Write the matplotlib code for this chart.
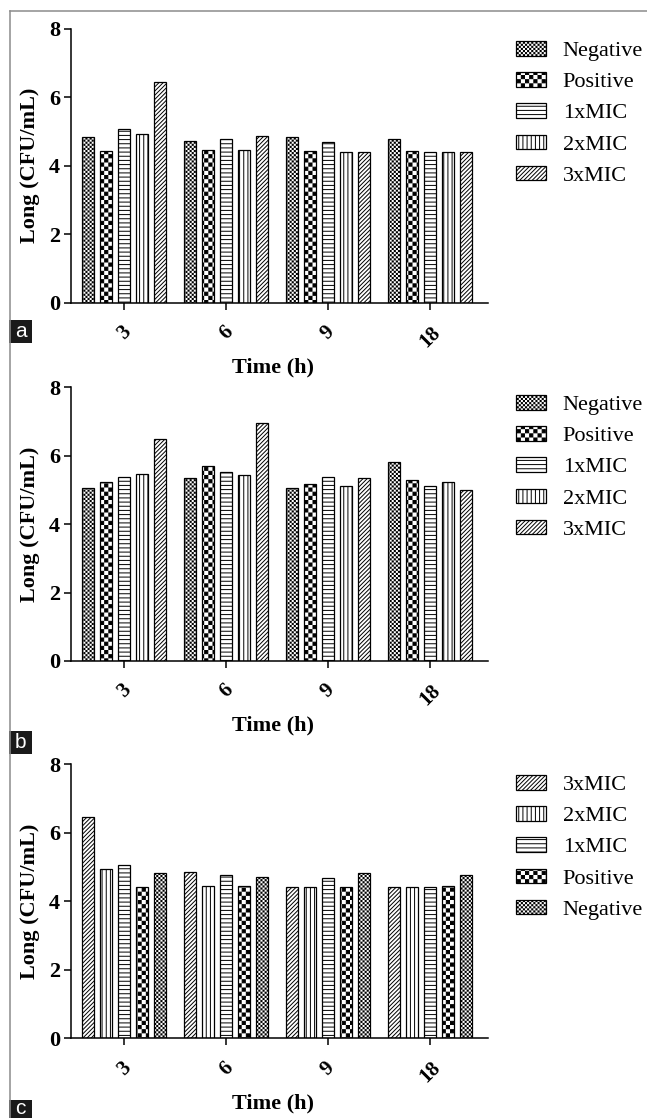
import warnings
import numpy as np
import matplotlib
matplotlib.use('Agg')
import matplotlib.pyplot as plt
import matplotlib.hatch as mhatch
from matplotlib.path import Path
from matplotlib.patches import Rectangle
from matplotlib.lines import Line2D

warnings.filterwarnings('ignore')

# time points (h)
times = ['3', '6', '9', '18']
series_names = ['Negative', 'Positive', '1xMIC', '2xMIC', '3xMIC']

# panel a (panel c shows the same values, series in reverse order)
a_negative = [4.84, 4.72, 4.83, 4.77]
a_positive = [4.42, 4.46, 4.42, 4.44]
a_1xmic = [5.07, 4.78, 4.68, 4.41]
a_2xmic = [4.93, 4.46, 4.41, 4.41]
a_3xmic = [6.45, 4.86, 4.41, 4.41]

# panel b
b_negative = [5.04, 5.35, 5.06, 5.81]
b_positive = [5.23, 5.68, 5.18, 5.29]
b_1xmic = [5.36, 5.52, 5.37, 5.11]
b_2xmic = [5.46, 5.42, 5.10, 5.23]
b_3xmic = [6.48, 6.94, 5.34, 4.98]


# checkerboard hatch, triggered by 'c' (more c's = finer squares)
class CheckerHatch(mhatch.HatchPatternBase):
    def __init__(self, hatch, density):
        self.n = int(hatch.count('c') * density)
        self.num_vertices = 10 * self.n * self.n

    def set_vertices_and_codes(self, vertices, codes):
        s = 1.0 / (2 * self.n)
        m = 0.35 / 72  # shrink a bit, the hatch stroke adds it back
        k = 0
        for i in range(2 * self.n):
            for j in range(2 * self.n):
                if (i + j) % 2:
                    continue
                x0, y0 = i * s + m, j * s + m
                x1, y1 = (i + 1) * s - m, (j + 1) * s - m
                vertices[k:k + 5] = [(x0, y0), (x1, y0), (x1, y1), (x0, y1), (x0, y0)]
                codes[k:k + 5] = [Path.MOVETO, Path.LINETO, Path.LINETO,
                                  Path.LINETO, Path.CLOSEPOLY]
                k += 5


mhatch._hatch_types.append(CheckerHatch)

plt.rcParams['font.family'] = ['Liberation Serif', 'DejaVu Serif']
plt.rcParams['hatch.linewidth'] = 0.7
plt.rcParams['hatch.color'] = 'black'

hatch_for = {'Negative': 'cccc', 'Positive': 'cc', '1xMIC': '----',
             '2xMIC': '||||', '3xMIC': '////////'}

W, H = 647, 1118
fig = plt.figure(figsize=(W / 100, H / 100), dpi=100)

# outer frame lines
fig.add_artist(Line2D([10 / W, 1], [1 - 10.5 / H, 1 - 10.5 / H], color='#8c8c8c', lw=1.1,
                      transform=fig.transFigure))
fig.add_artist(Line2D([10 / W, 10 / W], [0, 1 - 10.5 / H], color='#8c8c8c', lw=1.1,
                      transform=fig.transFigure))


def draw_panel(bottom_px, names, series, legend_top_px, letter, letter_top_px):
    ax = fig.add_axes([71 / W, 1 - bottom_px / H, 417 / W, 274 / H])
    x = np.arange(len(times))
    pitch = 0.176
    for i, (name, vals) in enumerate(zip(names, series)):
        ax.bar(x + (i - 2) * pitch, vals, width=0.12, facecolor='white',
               edgecolor='black', linewidth=0.9, hatch=hatch_for[name], label=name)
    ax.set_xlim(-0.52, 3.57)
    ax.set_ylim(0, 8)
    ax.set_yticks([0, 2, 4, 6, 8])
    ax.set_xticks(x)
    ax.set_xticklabels(times, rotation=45, ha='center', fontweight='bold', fontsize=15)
    for t in ax.get_yticklabels():
        t.set_fontweight('bold')
        t.set_fontsize(16)
    ax.tick_params(axis='both', direction='out', length=5, width=1.1, color='black')
    ax.tick_params(axis='x', pad=9)
    ax.tick_params(axis='y', pad=3)
    for side in ['top', 'right']:
        ax.spines[side].set_visible(False)
    for side in ['left', 'bottom']:
        ax.spines[side].set_linewidth(1.1)
    ax.set_xlabel('Time (h)', fontweight='bold', fontsize=16)
    ax.xaxis.set_label_coords(0.485, -0.20)
    ax.set_ylabel('Long (CFU/mL)', fontweight='bold', fontsize=16)
    ax.yaxis.set_label_coords(-0.075, 0.5)
    ax.legend(loc='upper left', bbox_to_anchor=(516 / W, 1 - legend_top_px / H),
              bbox_transform=fig.transFigure, frameon=False, fontsize=16,
              handlelength=1.35, handleheight=0.63, handletextpad=0.75,
              labelspacing=0.5, borderpad=0, borderaxespad=0)
    # panel letter in a black box
    fig.add_artist(Rectangle((9 / W, 1 - (letter_top_px + 23) / H), 23 / W, 23 / H,
                             facecolor='#1a1a1a', edgecolor='none',
                             transform=fig.transFigure))
    fig.text(20.5 / W, 1 - min(letter_top_px + 11.5, 1109) / H, letter, color='white',
             fontsize=15, family='Liberation Sans', ha='center', va='center')
    return ax


draw_panel(302.7, series_names,
           [a_negative, a_positive, a_1xmic, a_2xmic, a_3xmic], 41, 'a', 320)
draw_panel(661, series_names,
           [b_negative, b_positive, b_1xmic, b_2xmic, b_3xmic], 395, 'b', 731)
draw_panel(1038.3, series_names[::-1],
           [a_3xmic, a_2xmic, a_1xmic, a_positive, a_negative], 775, 'c', 1100)

fig.savefig('out.png', dpi=100)
